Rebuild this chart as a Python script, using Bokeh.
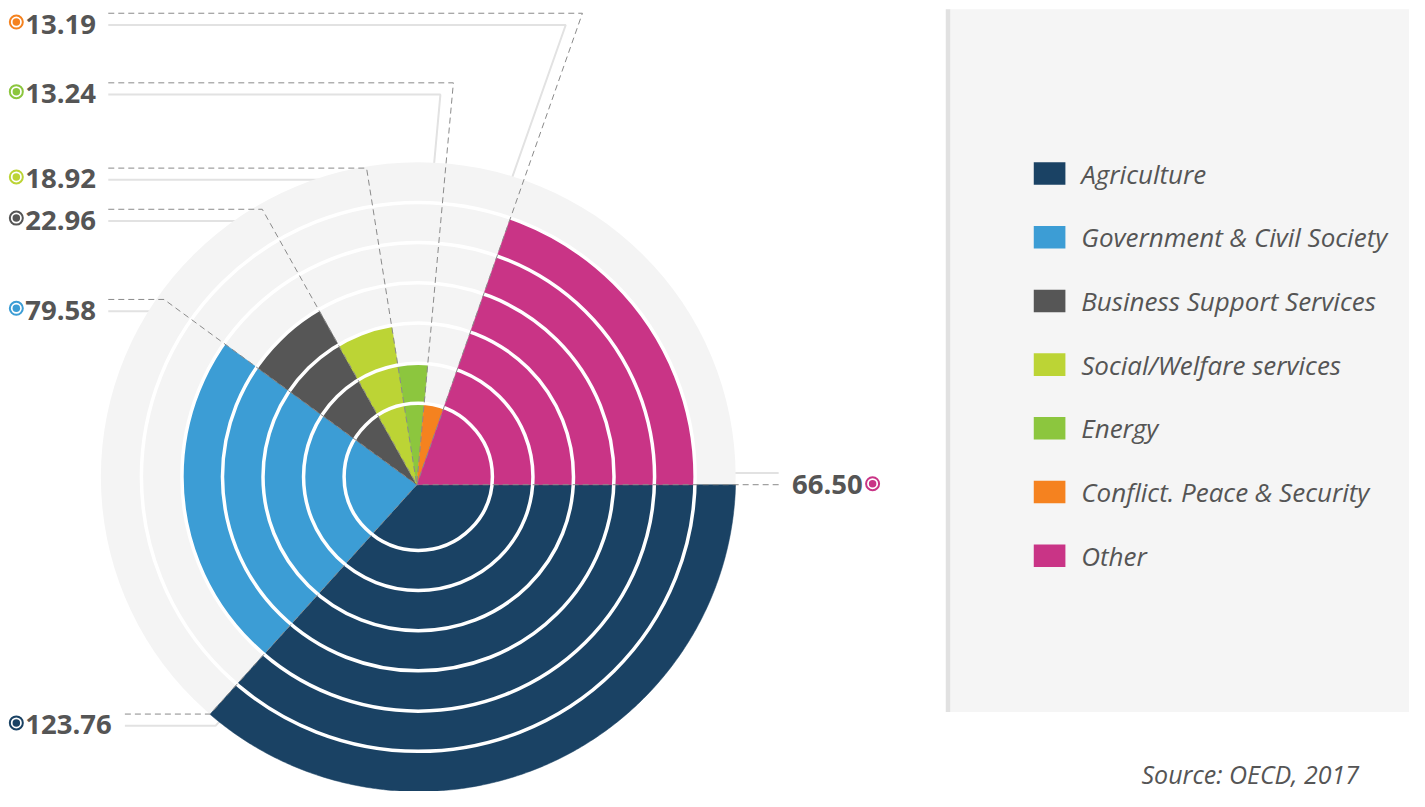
import math
from bokeh.plotting import figure
from bokeh.models import Range1d
from bokeh.core.properties import value
from bokeh.embed import file_html
from bokeh.resources import INLINE

# ---------------- data ----------------
categories = ["Agriculture", "Government & Civil Society", "Business Support Services",
              "Social/Welfare services", "Energy", "Conflict. Peace & Security", "Other"]
values = [123.76, 79.58, 22.96, 18.92, 13.24, 13.19, 66.50]
levels = [7, 5, 4, 3, 2, 1, 6]          # ring level reached by each sector
value_labels = ["123.76", "79.58", "22.96", "18.92", "13.24", "13.19", "66.50"]
colors = ["#1a4264", "#3c9dd5", "#565656", "#bcd435", "#8cc63e", "#f5821f", "#c93486"]
source_text = "Source: OECD, 2017"

# ---------------- layout (reference pixel space 1425 x 807) ----------------
W, H = 1409, 791
C = (422.5, 486.0)      # centre of the rings / background disc
A = (421.0, 494.0)      # apex of the sectors
R0, DR = 75.0, 41.0     # first ring radius, ring step
NRING = 7
label_y = [738, 315, 223, 181, 94, 23, 494]
label_side = ["left", "left", "left", "left", "left", "left", "right"]

FONT = value("Open Sans")
TXT = "#555555"

p = figure(width=W, height=H, x_range=Range1d(0, 1425), y_range=Range1d(807, 0),
           x_axis_type=None, y_axis_type=None, output_backend="svg", toolbar_location=None,
           min_border=0, outline_line_color=None, background_fill_color="white",
           border_fill_color="white")
p.grid.visible = False

# ---------------- legend panel ----------------
p.quad(left=[960], right=[1440], top=[9], bottom=[726], fill_color="#f5f5f5", line_color=None)
p.quad(left=[956], right=[960.5], top=[9], bottom=[726], fill_color="#e1e1e1", line_color=None)
n = len(categories)
p.quad(left=[1045] * n, right=[1077] * n,
       top=[165 + 65 * i for i in range(n)], bottom=[188 + 65 * i for i in range(n)],
       fill_color=colors, line_color=None)
p.text(x=[1093] * n, y=[176.5 + 65 * i for i in range(n)], text=categories,
       text_font=FONT, text_font_style="italic", text_font_size="26px",
       text_color=TXT, text_align="left", text_baseline="middle")
p.text(x=[1374], y=[789], text=[source_text], text_font=FONT, text_font_style="italic",
       text_font_size="25px", text_color=TXT, text_align="right", text_baseline="alphabetic")

# ---------------- geometry helpers ----------------
total = sum(values)
edges = [360.0]
for v in values:
    edges.append(edges[-1] - v / total * 360.0)


def ray_hit(phi_deg, R):
    ph = math.radians(phi_deg)
    ux, uy = math.cos(ph), -math.sin(ph)
    dx, dy = A[0] - C[0], A[1] - C[1]
    b = dx * ux + dy * uy
    t = -b + math.sqrt(b * b - (dx * dx + dy * dy) + R * R)
    return A[0] + t * ux, A[1] + t * uy


# ---------------- leader lines ----------------
D_OFF = 12.0
dash_xs, dash_ys, solid_xs, solid_ys = [], [], [], []
for i, lab in enumerate(value_labels):
    theta = edges[i + 1] % 360.0
    if label_side[i] == "left":
        yd = label_y[i] - 10
        th = math.radians(theta)
        t = (A[1] - yd) / math.sin(th)
        bx = A[0] + t * math.cos(th)
        x0 = 25 + 16.8 * len(lab)
        pts = [(x0, yd), (bx, yd), A]
    else:
        x0 = 872 - 17 * len(lab)
        pts = [(x0, label_y[i]), ((x0 + A[0]) / 2, label_y[i]), A]
    dash_xs.append([q[0] for q in pts])
    dash_ys.append([q[1] for q in pts])
    # parallel offset on the right-hand side of the path
    (x1, y1), (x2, y2), (x3, y3) = pts
    l1 = math.hypot(x2 - x1, y2 - y1)
    s1 = ((x2 - x1) / l1, (y2 - y1) / l1)
    l2 = math.hypot(x3 - x2, y3 - y2)
    s2 = ((x3 - x2) / l2, (y3 - y2) / l2)
    n1 = (-s1[1], s1[0])
    n2 = (-s2[1], s2[0])
    p0 = (x1 + n1[0] * D_OFF, y1 + n1[1] * D_OFF)
    q2 = (x2 + n2[0] * D_OFF, y2 + n2[1] * D_OFF)
    if abs(s2[1]) > 1e-6:
        mu = (p0[1] - q2[1]) / s2[1]
        bend = (q2[0] + mu * s2[0], p0[1])
    else:
        bend = (x2 + n1[0] * D_OFF, y2 + n1[1] * D_OFF)
    end = (x3 + n2[0] * D_OFF, y3 + n2[1] * D_OFF)
    solid_xs.append([p0[0], bend[0], end[0]])
    solid_ys.append([p0[1], bend[1], end[1]])

p.multi_line(xs=solid_xs, ys=solid_ys, line_color="#e2e2e2", line_width=2)

# ---------------- background disc ----------------
RD = R0 + DR * (NRING - 1)
p.ellipse(x=[C[0]], y=[C[1]], width=2 * RD, height=2 * RD, fill_color="#f4f4f4", line_color=None)

# ---------------- sectors ----------------
wx, wy = [], []
for i, v in enumerate(values):
    a_end, a_start = edges[i + 1], edges[i]
    R = R0 + DR * (levels[i] - 1)
    m = max(6, int((a_start - a_end) * 2))
    xs, ys = [A[0]], [A[1]]
    for k in range(m + 1):
        phi = a_end + (a_start - a_end) * k / m
        hx, hy = ray_hit(phi, R)
        xs.append(hx)
        ys.append(hy)
    wx.append(xs)
    wy.append(ys)
p.patches(xs=wx, ys=wy, fill_color=colors, line_color=colors, line_width=0.5)

# ---------------- white rings ----------------
radii = [R0 + DR * k for k in range(NRING - 1)]
p.ellipse(x=[C[0]] * len(radii), y=[C[1]] * len(radii), width=[2 * r for r in radii],
          height=[2 * r for r in radii], fill_color=None, line_color="white", line_width=3.5)

p.multi_line(xs=dash_xs, ys=dash_ys, line_color="#8a8a8a", line_width=1, line_dash="6 4")

# ---------------- value labels ----------------
left_idx = [i for i in range(n) if label_side[i] == "left"]
right_idx = [i for i in range(n) if label_side[i] == "right"]
p.text(x=[25] * len(left_idx), y=[label_y[i] + 1 for i in left_idx],
       text=[value_labels[i] for i in left_idx],
       text_font=FONT, text_font_style="bold", text_font_size="27.5px", text_color=TXT,
       text_align="left", text_baseline="middle")
p.text(x=[872] * len(right_idx), y=[label_y[i] for i in right_idx],
       text=[value_labels[i] for i in right_idx],
       text_font=FONT, text_font_style="bold", text_font_size="27.5px", text_color=TXT,
       text_align="right", text_baseline="middle")
mx = [16 if s == "left" else 882 for s in label_side]
my = [y - 1 for y in label_y]
p.scatter(x=mx, y=my, marker="circle", size=13, fill_color="white",
          line_color=colors, line_width=2)
p.scatter(x=mx, y=my, marker="circle", size=7.5, fill_color=colors, line_color=None)

open("out.html", "w").write(file_html(p, INLINE))
